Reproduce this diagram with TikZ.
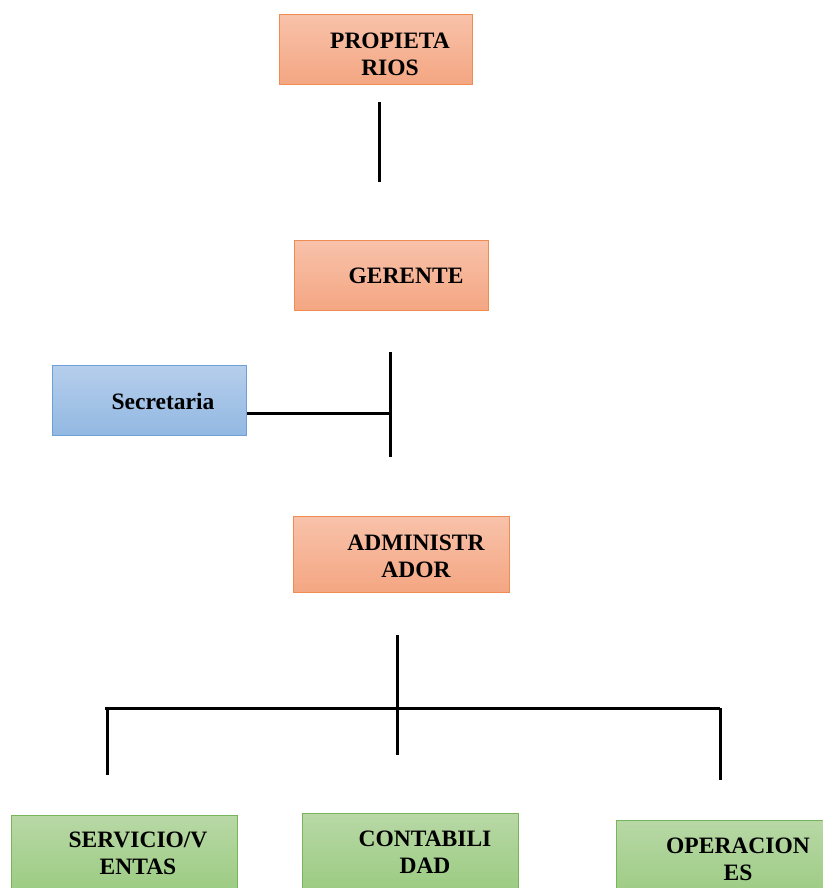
\documentclass[tikz,border=0pt]{standalone}
\usepackage{fontspec}
\setmainfont{Liberation Serif}[BoldFont={Liberation Serif Bold}]
\begin{document}
\begin{tikzpicture}[x=1pt,y=-1pt,
  box/.style={draw, line width=0.9pt, rectangle, inner sep=0pt, anchor=north west},
  obox/.style={box, draw={rgb,255:red,240;green,140;blue,82}, top color={rgb,255:red,248;green,194;blue,170}, bottom color={rgb,255:red,244;green,166;blue,130}},
  bbox/.style={box, draw={rgb,255:red,110;green,160;blue,215}, top color={rgb,255:red,182;green,206;blue,236}, bottom color={rgb,255:red,146;green,184;blue,226}},
  gbox/.style={box, draw={rgb,255:red,120;green,180;blue,90}, top color={rgb,255:red,184;green,216;blue,166}, bottom color={rgb,255:red,154;green,203;blue,128}},
  lbl/.style={font=\bfseries\fontsize{23.5}{27}\selectfont, align=center, inner sep=0pt, text=black},
  conn/.style={line width=3pt, black}]
\useasboundingbox (0,0) rectangle (822,888);
% boxes
\node[obox, minimum width=193, minimum height=70] (prop) at (279,14) {};
\node[lbl] (propt) at (390,-0) [yshift=-54pt] {PROPIETA\\RIOS};
\node[obox, minimum width=194, minimum height=70] (ger) at (294,240) {};
\node[lbl] (gert) at (406,0) [yshift=-276pt] {GERENTE};
\node[bbox, minimum width=194, minimum height=70] (sec) at (52,365) {};
\node[lbl] (sect) at (163,0) [yshift=-401pt] {Secretaria};
\node[obox, minimum width=216, minimum height=76] (adm) at (293,516) {};
\node[lbl] (admt) at (416,0) [yshift=-556pt] {ADMINISTR\\ADOR};
\node[gbox, minimum width=226, minimum height=80] (serv) at (11,815) {};
\node[lbl] (servt) at (138,0) [yshift=-853pt] {SERVICIO/V\\ENTAS};
\node[gbox, minimum width=216, minimum height=80] (cont) at (302,813) {};
\node[lbl] (contt) at (425,0) [yshift=-852pt] {CONTABILI\\DAD};
\node[gbox, minimum width=215, minimum height=80] (oper) at (616,820) {};
\node[lbl] (opert) at (738,0) [yshift=-859pt] {OPERACION\\ES};
% connector coordinates
\coordinate (c1a) at (379,102);
\coordinate (c1b) at (379,182);
\coordinate (c2a) at (390,352);
\coordinate (c2b) at (390,457);
\coordinate (c2m) at (390,413);
\coordinate (c3a) at (397,635);
\coordinate (c3b) at (397,755);
\coordinate (hl) at (105,708);
\coordinate (hr) at (720,708);
\coordinate (l1) at (107,775);
\coordinate (r1) at (720,780);
\draw[conn] (c1a) -- (c1b);
\draw[conn] (c2a) -- (c2b);
\draw[conn] (sec.east |- c2m) -- (c2m);
\draw[conn] (c3a) -- (c3b);
\draw[conn] (hl) -- (hr);
\draw[conn] (hl -| l1) -- (l1);
\draw[conn] (hr) -- (r1);
\end{tikzpicture}
\end{document}
